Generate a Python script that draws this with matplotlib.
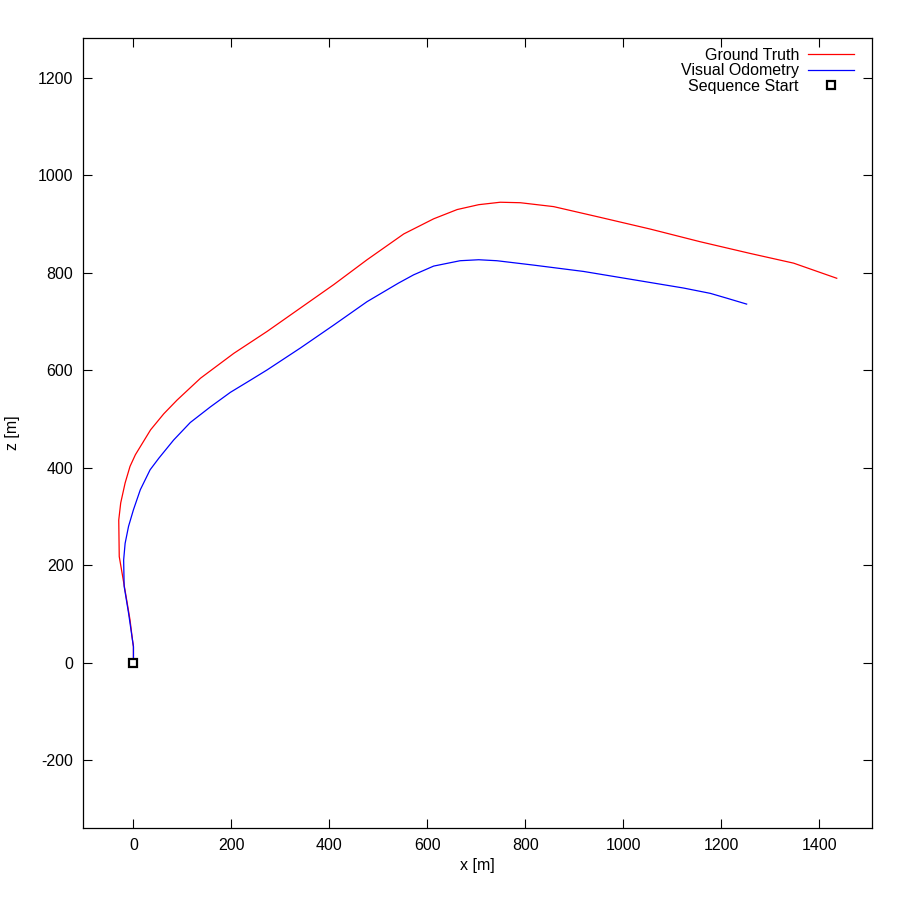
import matplotlib
matplotlib.use("Agg")
import matplotlib.pyplot as plt

# Ground truth trajectory (x, z) in metres
gt_x = [0, 0, -2, -7, -15, -22, -29, -30, -26, -17, -7, 4, 35, 62, 89, 137,
        205, 273, 341, 409, 477, 552, 613, 661, 705, 749, 790, 858, 953,
        1055, 1157, 1259, 1348, 1436]
gt_z = [0, 33, 47, 88, 136, 177, 218, 293, 328, 369, 403, 427, 478, 511, 539, 584,
        635, 680, 728, 776, 827, 880, 911, 930, 940, 945, 944, 936, 914,
        890, 864, 840, 820, 789]

# Visual odometry trajectory (x, z) in metres
vo_x = [0, 0, -10, -19, -20, -17, -10, 0, 14, 34, 52, 82, 116, 157, 198, 239, 273,
        341, 409, 477, 541, 572, 613, 667, 705, 742, 817, 919, 1021, 1123,
        1178, 1212, 1252]
vo_z = [0, 33, 102, 157, 211, 245, 280, 314, 355, 396, 420, 457, 493, 525, 555, 580, 601,
        646, 693, 741, 779, 796, 814, 825, 827, 825, 816, 803, 786, 769,
        758, 748, 736]

start_x = [0]
start_z = [0]

x_ticks = [0, 200, 400, 600, 800, 1000, 1200, 1400]
y_ticks = [-200, 0, 200, 400, 600, 800, 1000, 1200]

plt.rcParams['font.family'] = ['Liberation Sans', 'DejaVu Sans']
plt.rcParams['font.size'] = 11.5
plt.rcParams['axes.unicode_minus'] = False

fig = plt.figure(figsize=(9, 9), dpi=100)
ax = fig.add_axes([83 / 900, 1 - 828 / 900, (872 - 83) / 900, (828 - 38) / 900])

ax.plot(gt_x, gt_z, color='#ff0000', lw=0.9, label='Ground Truth')
ax.plot(vo_x, vo_z, color='#0000ff', lw=0.9, label='Visual Odometry')
ax.plot(start_x, start_z, linestyle='none', marker='s', markersize=5.5,
        markerfacecolor='white', markeredgecolor='black', markeredgewidth=1.6,
        label='Sequence Start')

ax.set_xlim(-103, 1508)
ax.set_ylim(-339, 1282)
ax.set_xticks(x_ticks)
ax.set_yticks(y_ticks)
ax.tick_params(direction='in', length=6.5, width=0.8, top=True, right=True,
               labelsize=11.5, pad=7, colors='black')
for s in ax.spines.values():
    s.set_linewidth(0.9)

ax.set_xlabel('x [m]', fontsize=11.5, labelpad=4)
ax.set_ylabel('z [m]', fontsize=11.5, labelpad=13)

leg = ax.legend(loc='upper right', bbox_to_anchor=(862 / 900, 1 - 40 / 900),
                bbox_transform=fig.transFigure, frameon=False, markerfirst=False,
                handlelength=2.9, handletextpad=0.55, labelspacing=0.02, borderpad=0,
                fontsize=11.5)

fig.savefig('out.png', dpi=100, facecolor='white')
